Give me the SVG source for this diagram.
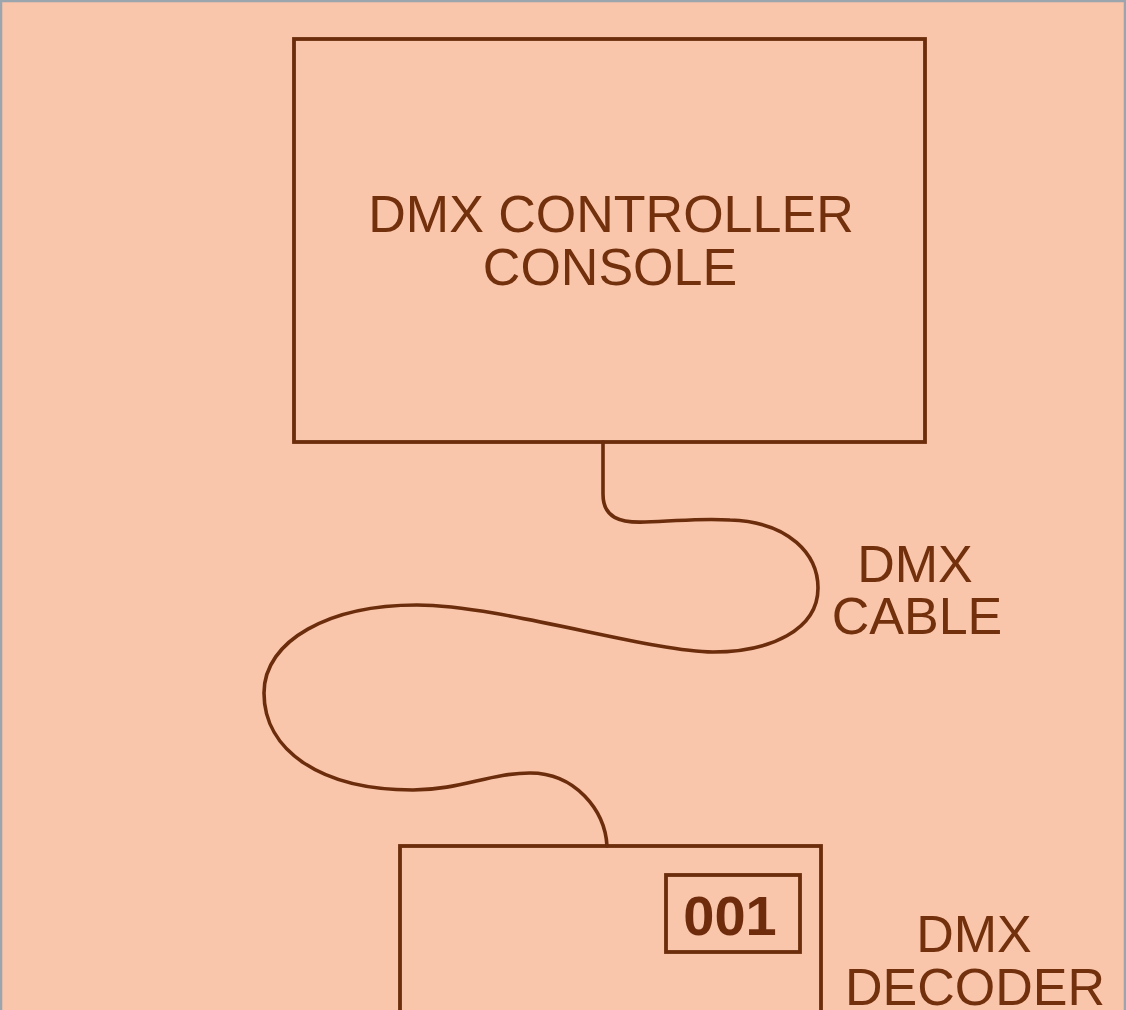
<svg xmlns="http://www.w3.org/2000/svg" width="1126" height="1010" viewBox="0 0 1126 1010">
<style>
.box{fill:none;stroke:#6b2d0c;stroke-width:3.8}
.cable{fill:none;stroke:#6b2d0c;stroke-width:3.6;stroke-linecap:round;stroke-linejoin:round}
.lbl{font-family:"Liberation Sans",Arial,sans-serif;font-size:52px;fill:#72300c;text-anchor:middle}
.num{font-family:"Liberation Sans",Arial,sans-serif;font-size:56px;font-weight:bold;fill:#6e2c0c;text-anchor:middle}
</style>
<rect x="0" y="0" width="1126" height="1010" fill="#f9c5ab"/>
<path d="M1 1010 V1 H1125 V1010" fill="none" stroke="#9ba5ad" stroke-width="2.5"/>
<g id="controller">
<rect class="box" x="294" y="39" width="631" height="403"/>
<text class="lbl" x="611" y="232">DMX CONTROLLER</text>
<text class="lbl" x="610" y="285">CONSOLE</text>
</g>
<g id="decoder">
<rect class="box" x="400" y="846" width="421" height="200"/>
<rect class="box" x="666" y="875" width="134" height="77"/>
<text class="num" x="730" y="935">001</text>
</g>
<g id="cable-label">
<text class="lbl" x="915" y="582">DMX</text>
<text class="lbl" x="917" y="634">CABLE</text>
</g>
<g id="decoder-label">
<text class="lbl" x="974" y="952">DMX</text>
<text class="lbl" x="975" y="1005">DECODER</text>
</g>
<g id="connectors">
<path class="cable" d="M603 442 L603 494 C603 518 620 523 645 522 C680 521 700 518 730 520 C790 522 818 555 818 588 C818 630 770 652 713 652 C650 652 500 605 417 605 C330 605 264 640 264 693 C264 750 320 790 413 790 C460 790 490 773 530 773 C575 773 605 810 607 846"/>
</g>
</svg>
